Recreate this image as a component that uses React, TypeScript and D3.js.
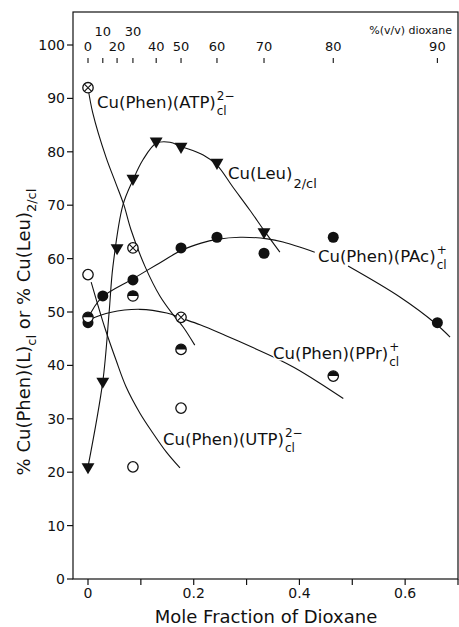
import { useEffect, useRef } from "react";
import * as d3 from "d3";

// top scale: % (v/v) dioxane and the mole fraction it sits at
const pctDioxane = [0, 10, 20, 30, 40, 50, 60, 70, 80, 90];
const moleFraction = [0, 0.028, 0.055, 0.085, 0.129, 0.176, 0.244, 0.333, 0.464, 0.661];
const raisedPct = [10, 30];

const yTicks = [0, 10, 20, 30, 40, 50, 60, 70, 80, 90, 100];
const xTicks = [0, 0.1, 0.2, 0.3, 0.4, 0.5, 0.6, 0.7];
const xTickLabels = ["0", "", "0.2", "", "0.4", "", "0.6", ""];

// measured points (x given as % dioxane)
const leuPct = [0, 10, 20, 30, 40, 50, 60, 70];
const leuValues = [21, 37, 62, 75, 82, 81, 78, 65];
const pacPct = [0, 10, 30, 50, 60, 70, 80, 90];
const pacValues = [48, 53, 56, 62, 64, 61, 64, 48];
const pprPct = [0, 30, 50, 80];
const pprValues = [49, 53, 43, 38];
const utpPct = [0, 30, 50];
const utpValues = [57, 21, 32];
const atpPct = [0, 30, 50];
const atpValues = [92, 62, 49];

// drawn curves [mole fraction, %]
const leuCurve = [
  [0, 21], [0.028, 37], [0.04, 50], [0.047, 58.4], [0.066, 70], [0.085, 74.7],
  [0.104, 78.5], [0.129, 81.6], [0.155, 81.8], [0.176, 81], [0.218, 79.4],
  [0.244, 77.5], [0.274, 73.4], [0.306, 69.1], [0.335, 65], [0.363, 61.2],
];
const atpCurve = [
  [0, 92], [0.009, 87.3], [0.034, 79], [0.053, 74], [0.068, 70], [0.081, 65.5],
  [0.108, 58.5], [0.136, 53], [0.161, 49.5], [0.18, 47.2], [0.202, 43.8],
];
const utpCurve = [
  [0.006, 55.6], [0.032, 47], [0.053, 41], [0.072, 36], [0.098, 31.1],
  [0.123, 27.3], [0.148, 23.8], [0.174, 20.8],
];
const pacCurveA = [
  [0, 48.8], [0.025, 52.6], [0.085, 56.2], [0.129, 58.8], [0.178, 61.6],
  [0.214, 62.9], [0.244, 63.6], [0.288, 64], [0.339, 63.7], [0.369, 63.1], [0.429, 61.2],
];
const pacCurveB = [
  [0.492, 58.6], [0.59, 52.8], [0.658, 47.8], [0.685, 45.3],
];
const pprCurve = [
  [0.003, 48.6], [0.042, 49.9], [0.098, 50.5], [0.149, 49.8], [0.178, 48.8],
  [0.212, 47.6], [0.26, 45.6], [0.313, 43.3], [0.357, 41.3], [0.39, 39.6],
  [0.435, 36.9], [0.483, 33.8],
];

const labels = [
  { main: "Cu(Phen)(ATP)", sup: "2\u2212", sub: "cl", x: 0.017, y: 88.2 },
  { main: "Cu(Leu)", sup: "", sub: "2/cl", x: 0.265, y: 74.9 },
  { main: "Cu(Phen)(PAc)", sup: "+", sub: "cl", x: 0.435, y: 59.4 },
  { main: "Cu(Phen)(PPr)", sup: "+", sub: "cl", x: 0.35, y: 41.2 },
  { main: "Cu(Phen)(UTP)", sup: "2\u2212", sub: "cl", x: 0.142, y: 25.1 },
];

const FONT = "DejaVu Sans, sans-serif";

const App = () => {
  const ref = useRef<SVGSVGElement>(null);

  useEffect(() => {
    const width = 459;
    const height = 627;
    const frame = { left: 73, right: 458, top: 12, bottom: 579 };

    const x = d3.scaleLinear().domain([0, 0.7]).range([88, 458]);
    const y = d3.scaleLinear().domain([0, 100]).range([579, 45]);
    const pctToX = (p: number) => moleFraction[pctDioxane.indexOf(p)];

    const svg = d3.select(ref.current);
    svg.selectAll("*").remove();
    svg.attr("width", width).attr("height", height);

    svg.append("rect").attr("width", width).attr("height", height).attr("fill", "white");

    // frame
    svg
      .append("rect")
      .attr("x", frame.left)
      .attr("y", frame.top)
      .attr("width", frame.right - frame.left)
      .attr("height", frame.bottom - frame.top)
      .attr("fill", "none")
      .attr("stroke", "#111")
      .attr("stroke-width", 1.2);

    // left axis
    const yAxis = svg.append("g");
    yTicks.forEach((t) => {
      yAxis
        .append("line")
        .attr("x1", frame.left - 6)
        .attr("x2", frame.left)
        .attr("y1", y(t))
        .attr("y2", y(t))
        .attr("stroke", "#111")
        .attr("stroke-width", 1.2);
      yAxis
        .append("text")
        .attr("x", frame.left - 8)
        .attr("y", y(t))
        .attr("dy", "0.36em")
        .attr("text-anchor", "end")
        .attr("font-family", FONT)
        .attr("font-size", 14)
        .attr("fill", "#111")
        .text(t);
    });

    // bottom axis
    const xAxis = svg.append("g");
    xTicks.forEach((t, i) => {
      xAxis
        .append("line")
        .attr("x1", x(t))
        .attr("x2", x(t))
        .attr("y1", frame.bottom)
        .attr("y2", frame.bottom + 6)
        .attr("stroke", "#111")
        .attr("stroke-width", 1.2);
      if (xTickLabels[i]) {
        xAxis
          .append("text")
          .attr("x", x(t))
          .attr("y", 598)
          .attr("text-anchor", "middle")
          .attr("font-family", FONT)
          .attr("font-size", 14)
          .attr("fill", "#111")
          .text(xTickLabels[i]);
      }
    });

    // top % (v/v) dioxane scale
    const topAxis = svg.append("g");
    pctDioxane.forEach((p, i) => {
      const px = x(moleFraction[i]);
      topAxis
        .append("line")
        .attr("x1", px)
        .attr("x2", px)
        .attr("y1", 58)
        .attr("y2", 63)
        .attr("stroke", "#111")
        .attr("stroke-width", 1.1);
      topAxis
        .append("text")
        .attr("x", px)
        .attr("y", raisedPct.includes(p) ? 36 : 51)
        .attr("text-anchor", "middle")
        .attr("font-family", FONT)
        .attr("font-size", 13)
        .attr("fill", "#111")
        .text(p);
    });
    topAxis
      .append("text")
      .attr("x", 452)
      .attr("y", 34)
      .attr("text-anchor", "end")
      .attr("font-family", FONT)
      .attr("font-size", 11)
      .attr("fill", "#111")
      .text("%(v/v) dioxane");

    // curves
    const line = d3
      .line<number[]>()
      .x((d) => x(d[0]))
      .y((d) => y(d[1]))
      .curve(d3.curveCatmullRom.alpha(0.5));
    [leuCurve, atpCurve, utpCurve, pacCurveA, pacCurveB, pprCurve].forEach((c) => {
      svg
        .append("path")
        .datum(c)
        .attr("fill", "none")
        .attr("stroke", "#111")
        .attr("stroke-width", 1.1)
        .attr("d", line);
    });

    // markers
    const marks = svg.append("g");
    const drawMarker = (type: string, cx: number, cy: number) => {
      if (type === "tri") {
        marks
          .append("path")
          .attr("d", d3.symbol(d3.symbolTriangle, 72)())
          .attr("transform", `translate(${cx},${cy}) rotate(180)`)
          .attr("fill", "#111");
      } else if (type === "dot") {
        marks.append("circle").attr("cx", cx).attr("cy", cy).attr("r", 5.5).attr("fill", "#111");
      } else {
        const r = 5.2;
        marks
          .append("circle")
          .attr("cx", cx)
          .attr("cy", cy)
          .attr("r", r)
          .attr("fill", "white")
          .attr("stroke", "#111")
          .attr("stroke-width", 1.3);
        if (type === "half") {
          marks
            .append("path")
            .attr("d", `M${cx - r},${cy} A${r},${r} 0 0 1 ${cx + r},${cy} Z`)
            .attr("fill", "#111");
        }
        if (type === "cross") {
          const k = r * 0.7;
          marks
            .append("path")
            .attr("d", `M${cx - k},${cy - k}L${cx + k},${cy + k}M${cx - k},${cy + k}L${cx + k},${cy - k}`)
            .attr("stroke", "#111")
            .attr("stroke-width", 1.1);
        }
      }
    };
    const series: [number[], number[], string][] = [
      [pacPct, pacValues, "dot"],
      [pprPct, pprValues, "half"],
      [utpPct, utpValues, "open"],
      [atpPct, atpValues, "cross"],
      [leuPct, leuValues, "tri"],
    ];
    series.forEach(([pcts, vals, type]) => {
      pcts.forEach((p, i) => drawMarker(type, x(pctToX(p)), y(vals[i])));
    });

    // curve labels
    labels.forEach((l) => {
      const lx = x(l.x);
      const ly = y(l.y);
      const t = svg
        .append("text")
        .attr("x", lx)
        .attr("y", ly)
        .attr("font-family", FONT)
        .attr("font-size", 16.5)
        .attr("fill", "#111")
        .attr("stroke", "white")
        .attr("stroke-width", 3)
        .attr("paint-order", "stroke")
        .text(l.main);
      const len = (t.node() as SVGTextElement).getComputedTextLength();
      if (l.sup) {
        svg
          .append("text")
          .attr("x", lx + len + 1)
          .attr("y", ly - 8)
          .attr("font-family", FONT)
          .attr("font-size", 12)
          .attr("fill", "#111")
          .text(l.sup);
      }
      svg
        .append("text")
        .attr("x", lx + len + 1)
        .attr("y", ly + (l.sup ? 7 : 9))
        .attr("font-family", FONT)
        .attr("font-size", l.sup ? 12 : 13)
        .attr("fill", "#111")
        .text(l.sub);
    });

    // axis titles
    svg
      .append("text")
      .attr("x", 266)
      .attr("y", 623)
      .attr("text-anchor", "middle")
      .attr("font-family", FONT)
      .attr("font-size", 18)
      .attr("fill", "#111")
      .text("Mole Fraction of Dioxane");

    const yt = svg
      .append("text")
      .attr("transform", "translate(30,332) rotate(-90)")
      .attr("text-anchor", "middle")
      .attr("font-family", FONT)
      .attr("font-size", 18)
      .attr("fill", "#111")
      .style("white-space", "pre");
    yt.append("tspan").text("% Cu(Phen)(L)");
    yt.append("tspan").attr("dy", 6).attr("font-size", 13).text("cl");
    yt.append("tspan").attr("dy", -6).text(" or % Cu(Leu)");
    yt.append("tspan").attr("dy", 6).attr("font-size", 13).text("2/cl");

    return () => {
      if (ref.current) ref.current.innerHTML = "";
    };
  }, []);

  return <svg ref={ref} style={{ position: "absolute", left: 0, top: 0 }} />;
};

export default App;
